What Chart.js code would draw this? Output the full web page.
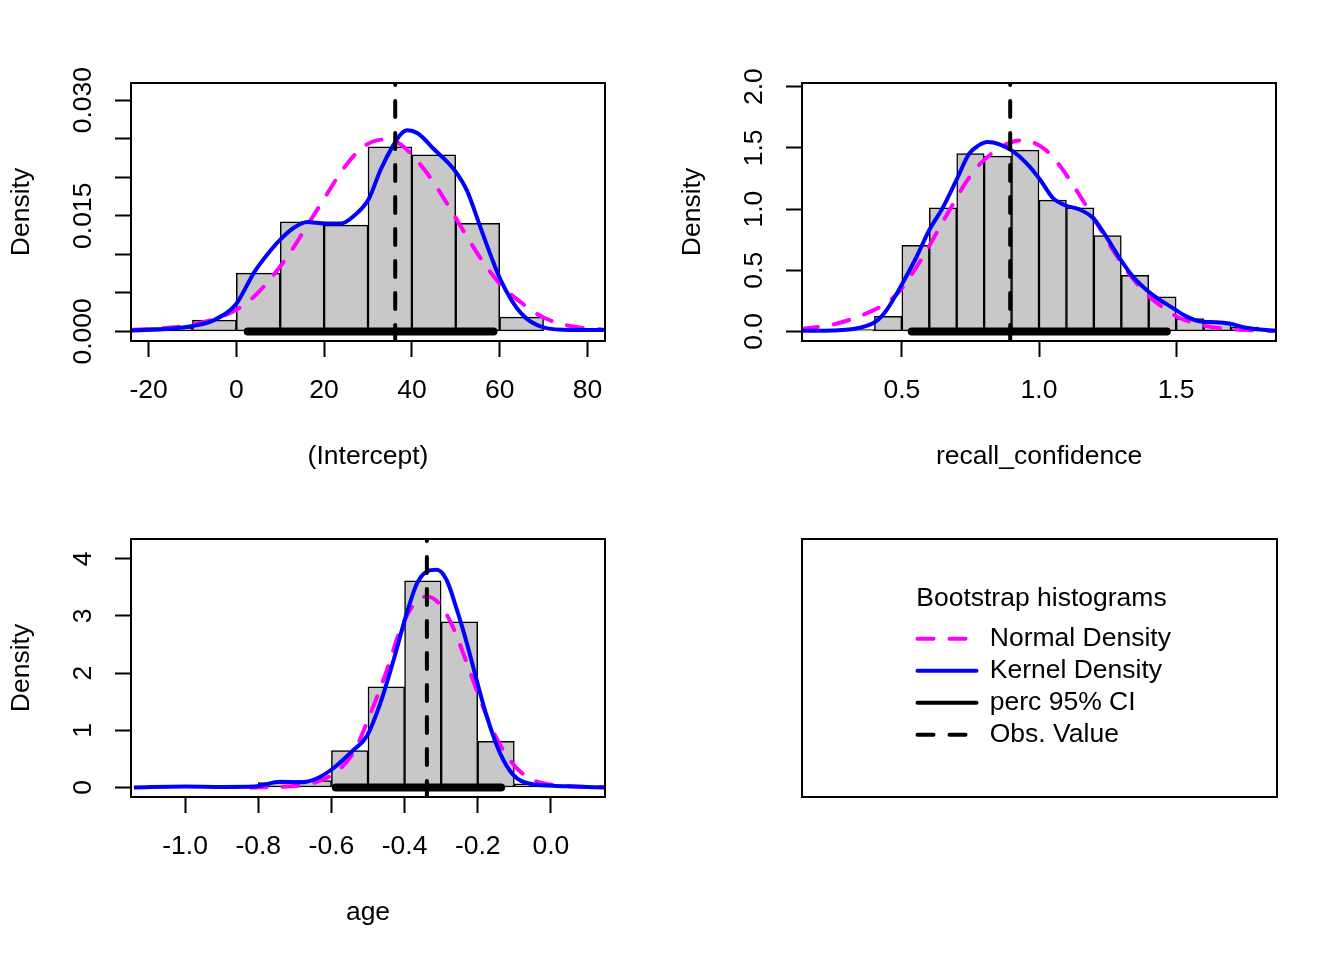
<!DOCTYPE html>
<html lang="en">
<head>
    <meta charset="UTF-8">
    <title>Bootstrap histograms</title>
    <script src="https://cdn.jsdelivr.net/npm/chart.js"></script>
    <style>
        body { margin: 0; background: #fff; }
        #page { position: relative; width: 1344px; height: 960px; }
        canvas, .frame { position: absolute; }
        .frame { box-sizing: border-box; border: 2px solid #000; }
    </style>
</head>
<body>
<div id="page">
    <canvas id="p1" width="672" height="480" style="left:0;top:0"></canvas>
    <canvas id="p2" width="672" height="480" style="left:671px;top:0"></canvas>
    <canvas id="p3" width="672" height="480" style="left:0;top:456px"></canvas>
    <div class="frame" style="left:801px;top:538px;width:477px;height:260px"></div>
    <canvas id="p4" width="475" height="420" style="left:802px;top:539px"></canvas>
</div>

<script>
    // --- (Intercept) ---
    const breaks1 = [-20, -10, 0, 10, 20, 30, 40, 50, 60, 70];
    const dens1 = [0.0005, 0.00147, 0.00757, 0.01422, 0.01379, 0.02395, 0.02291, 0.01401, 0.00186];
    const normX1 = [-24, -15, -10, -5, 0, 4, 8, 12, 16, 20, 24, 28, 31, 34, 37, 40, 44, 48, 52, 56, 60, 65, 70, 76, 84];
    const normY1 = [0.0002, 0.0005, 0.0009, 0.0016, 0.0028, 0.0045, 0.007, 0.01, 0.0136, 0.0172, 0.0208, 0.0235, 0.0246,
        0.0249, 0.0244, 0.0229, 0.0201, 0.0166, 0.0128, 0.0092, 0.0062, 0.0037, 0.0018, 0.0007, 0.0002];
    const kernX1 = [-24, -15, -10, -5.1, 0, 4, 7.1, 10, 13.1, 16.2, 20, 23.8, 26.8, 30.1, 32.9, 35.6, 37.5, 39, 41.3,
        45.1, 49.6, 52.6, 55.3, 58, 60.2, 64.8, 70.1, 76.2, 84];
    const kernY1 = [0.00013, 0.00035, 0.0007, 0.00147, 0.0036, 0.0076, 0.01, 0.0119, 0.01345, 0.0142, 0.014, 0.014, 0.015,
        0.0171, 0.021, 0.024, 0.0256, 0.0261, 0.0257, 0.0236, 0.021, 0.0182, 0.014, 0.0098, 0.0067, 0.0024, 0.0005, 0.0002, 0.0002];
    const ci1 = [2.6, 58.6];
    const obs1 = 36.2;
    const xTicks1 = [-20, 0, 20, 40, 60, 80];
    const xLabels1 = ['-20', '0', '20', '40', '60', '80'];
    const yTicks1 = [0, 0.005, 0.01, 0.015, 0.02, 0.025, 0.03];
    const yLabels1 = ['0.000', '', '', '0.015', '', '', '0.030'];

    // --- recall_confidence ---
    const breaks2 = [0.3, 0.4, 0.5, 0.6, 0.7, 0.8, 0.9, 1.0, 1.1, 1.2, 1.3, 1.4, 1.5, 1.6, 1.7, 1.8];
    const dens2 = [0.016, 0.1225, 0.703, 1.01, 1.454, 1.432, 1.481, 1.073, 1.01, 0.784, 0.458, 0.283, 0.106, 0.076, 0.035];
    const normX2 = [0.136, 0.25, 0.346, 0.431, 0.492, 0.54, 0.589, 0.637, 0.686, 0.734, 0.783, 0.831, 0.88, 0.928, 0.977,
        1.026, 1.074, 1.123, 1.171, 1.22, 1.268, 1.317, 1.365, 1.414, 1.462, 1.511, 1.572, 1.644, 1.729, 1.864];
    const normY2 = [0.022, 0.057, 0.125, 0.215, 0.33, 0.479, 0.656, 0.847, 1.038, 1.22, 1.364, 1.46, 1.528, 1.56, 1.545,
        1.48, 1.36, 1.2, 1.03, 0.85, 0.67, 0.507, 0.37, 0.261, 0.18, 0.112, 0.065, 0.03, 0.014, 0.005];
    const kernX2 = [0.136, 0.25, 0.346, 0.407, 0.443, 0.5, 0.552, 0.601, 0.649, 0.7, 0.746, 0.78, 0.813, 0.856, 0.904,
        0.953, 1.001, 1.05, 1.098, 1.147, 1.196, 1.244, 1.293, 1.341, 1.39, 1.438, 1.487, 1.535, 1.584, 1.644, 1.693, 1.754, 1.864];
    const kernY2 = [0.005, 0.008, 0.03, 0.084, 0.17, 0.384, 0.602, 0.833, 1.01, 1.242, 1.454, 1.52, 1.547, 1.528, 1.473,
        1.378, 1.25, 1.092, 1.029, 0.997, 0.929, 0.779, 0.602, 0.452, 0.343, 0.261, 0.193, 0.125, 0.084, 0.076, 0.065, 0.03, 0.005];
    const ci2 = [0.536, 1.466];
    const obs2 = 0.895;
    const xTicks2 = [0.5, 1.0, 1.5];
    const xLabels2 = ['0.5', '1.0', '1.5'];
    const yTicks2 = [0, 0.5, 1, 1.5, 2];
    const yLabels2 = ['0.0', '0.5', '1.0', '1.5', '2.0'];

    // --- age ---
    const breaks3 = [-0.8, -0.7, -0.6, -0.5, -0.4, -0.3, -0.2, -0.1, 0.0];
    const dens3 = [0.087, 0.12, 0.647, 1.761, 3.615, 2.898, 0.805, 0.064];
    const normX3 = [-0.821, -0.721, -0.648, -0.585, -0.539, -0.494, -0.448, -0.412, -0.375, -0.339, -0.303, -0.266,
        -0.23, -0.194, -0.157, -0.112, -0.066, 0.006, 0.148];
    const normY3 = [0.0, 0.017, 0.08, 0.28, 0.62, 1.28, 2.06, 2.75, 3.2, 3.34, 3.2, 2.78, 2.18, 1.55, 0.97, 0.48, 0.19, 0.045, 0.005];
    const kernX3 = [-1.14, -1.0, -0.9, -0.81, -0.74, -0.685, -0.639, -0.594, -0.539, -0.503, -0.466, -0.43, -0.394, -0.366,
        -0.339, -0.312, -0.285, -0.257, -0.23, -0.203, -0.175, -0.139, -0.103, -0.057, 0.006, 0.061, 0.148];
    const kernY3 = [0.0, 0.017, 0.01, 0.017, 0.1, 0.09, 0.16, 0.34, 0.66, 0.9, 1.48, 2.23, 3.05, 3.57, 3.78, 3.81, 3.63,
        3.11, 2.53, 1.88, 1.24, 0.6, 0.22, 0.064, 0.03, 0.017, 0.0];
    const ci3 = [-0.588, -0.136];
    const obs3 = -0.339;
    const xTicks3 = [-1.0, -0.8, -0.6, -0.4, -0.2, 0.0];
    const xLabels3 = ['-1.0', '-0.8', '-0.6', '-0.4', '-0.2', '0.0'];
    const yTicks3 = [0, 1, 2, 3, 4];
    const yLabels3 = ['0', '1', '2', '3', '4'];

    // legend
    const legendLabels = ['Normal Density', 'Kernel Density', 'perc 95% CI', 'Obs. Value'];
    const legendColors = ['#FF00FF', '#0000FF', '#000000', '#000000'];
    const legendDash = [[16, 16], [], [], [16, 16]];

    const FAMILY = '"Liberation Sans", Arial, Helvetica, sans-serif';
    const FONT = { family: FAMILY, size: 26.5 };
    Chart.defaults.font.family = FAMILY;
    Chart.defaults.color = '#000';

    const measure = document.createElement('canvas').getContext('2d');
    measure.font = '26.5px ' + FAMILY;
    const widest = labels => Math.max(...labels.map(l => measure.measureText(l).width));

    // R style frame round the plot region
    const boxPlugin = {
        id: 'box',
        afterDraw(chart) {
            const a = chart.chartArea, ctx = chart.ctx;
            ctx.save();
            ctx.strokeStyle = '#000';
            ctx.lineWidth = 2;
            ctx.strokeRect(a.left, a.top, a.right - a.left, a.bottom - a.top);
            ctx.restore();
        }
    };

    const pts = (xs, ys) => xs.map((x, i) => ({ x: x, y: ys[i] }));

    const axisGrid = { drawOnChartArea: false, tickLength: 16, tickWidth: 2, tickColor: '#000', offset: false };
    const axisBorder = { color: '#000', width: 2 };

    function makePanel(id, p) {
        const bars = p.dens.map((d, i) => ({ x: (p.breaks[i] + p.breaks[i + 1]) / 2, y: d }));
        new Chart(document.getElementById(id), {
            type: 'bar',
            data: {
                datasets: [
                    {
                        type: 'line', label: 'Obs. Value', order: 1,
                        data: [{ x: p.obs, y: p.yRange[0] }, { x: p.obs, y: p.yRange[1] }],
                        borderColor: '#000', borderWidth: 4, borderDash: [16, 16], borderCapStyle: 'round', pointRadius: 0
                    },
                    {
                        type: 'line', label: 'perc 95% CI', order: 2,
                        data: [{ x: p.ci[0], y: 0 }, { x: p.ci[1], y: 0 }],
                        borderColor: '#000', borderWidth: 8, borderCapStyle: 'round', pointRadius: 0
                    },
                    {
                        type: 'line', label: 'Kernel Density', order: 3,
                        data: pts(p.kernX, p.kernY),
                        borderColor: '#0000FF', borderWidth: 4, cubicInterpolationMode: 'monotone', pointRadius: 0
                    },
                    {
                        type: 'line', label: 'Normal Density', order: 4,
                        data: pts(p.normX, p.normY),
                        borderColor: '#FF00FF', borderWidth: 4, borderDash: [16, 16], borderCapStyle: 'round',
                        cubicInterpolationMode: 'monotone', pointRadius: 0
                    },
                    {
                        type: 'bar', label: 'hist', order: 5, data: bars,
                        backgroundColor: '#C8C8C8', borderColor: '#000', borderWidth: 1.5, borderSkipped: false,
                        barPercentage: 1, categoryPercentage: 1
                    }
                ]
            },
            options: {
                responsive: false,
                animation: false,
                layout: { padding: { left: 0, top: 83, right: 67, bottom: 7 } },
                plugins: { legend: { display: false }, tooltip: { enabled: false } },
                scales: {
                    x: {
                        type: 'linear', min: p.xRange[0], max: p.xRange[1], offset: false,
                        afterBuildTicks: s => { s.ticks = p.xTicks.map(v => ({ value: v })); },
                        afterFit: s => { s.height = 132; },
                        grid: axisGrid, border: axisBorder,
                        ticks: {
                            autoSkip: false, minRotation: 0, maxRotation: 0, padding: 18, color: '#000', font: FONT,
                            callback: (v, i) => p.xLabels[i]
                        },
                        title: { display: true, text: p.name, color: '#000', font: FONT, padding: 0 }
                    },
                    y: {
                        type: 'linear', min: p.yRange[0], max: p.yRange[1],
                        afterBuildTicks: s => { s.ticks = p.yTicks.map(v => ({ value: v })); },
                        afterFit: s => { s.width = 131; },
                        grid: axisGrid, border: axisBorder,
                        ticks: {
                            autoSkip: false, minRotation: 90, maxRotation: 90, crossAlign: 'center',
                            padding: 31 - widest(p.yLabels) / 2, color: '#000', font: FONT,
                            callback: (v, i) => p.yLabels[i]
                        },
                        title: { display: true, text: 'Density', color: '#000', font: FONT, padding: { top: 6, bottom: 0 } }
                    }
                }
            },
            plugins: [boxPlugin]
        });
    }

    makePanel('p1', {
        name: '(Intercept)', breaks: breaks1, dens: dens1, normX: normX1, normY: normY1, kernX: kernX1, kernY: kernY1,
        ci: ci1, obs: obs1, xTicks: xTicks1, xLabels: xLabels1, yTicks: yTicks1, yLabels: yLabels1,
        xRange: [-24, 84], yRange: [-0.00124, 0.03222]
    });
    makePanel('p2', {
        name: 'recall_confidence', breaks: breaks2, dens: dens2, normX: normX2, normY: normY2, kernX: kernX2, kernY: kernY2,
        ci: ci2, obs: obs2, xTicks: xTicks2, xLabels: xLabels2, yTicks: yTicks2, yLabels: yLabels2,
        xRange: [0.136, 1.864], yRange: [-0.0781, 2.03]
    });
    makePanel('p3', {
        name: 'age', breaks: breaks3, dens: dens3, normX: normX3, normY: normY3, kernX: kernX3, kernY: kernY3,
        ci: ci3, obs: obs3, xTicks: xTicks3, xLabels: xLabels3, yTicks: yTicks3, yLabels: yLabels3,
        xRange: [-1.148, 0.148], yRange: [-0.167, 4.347]
    });

    // legend panel
    new Chart(document.getElementById('p4'), {
        type: 'line',
        data: {
            datasets: legendLabels.map((t, i) => ({
                label: t, data: [], borderColor: legendColors[i], borderWidth: 4, borderDash: legendDash[i]
            }))
        },
        options: {
            responsive: false,
            animation: false,
            layout: { padding: { left: 110, top: 42.9, right: 0, bottom: 0 } },
            scales: { x: { display: false }, y: { display: false } },
            plugins: {
                tooltip: { enabled: false },
                legend: {
                    position: 'top',
                    align: 'start',
                    title: {
                        display: true, text: 'Bootstrap histograms', color: '#000', font: FONT,
                        padding: { top: 4, bottom: 2.35 }
                    },
                    labels: {
                        color: '#000', font: FONT, usePointStyle: true, pointStyleWidth: 59, padding: 5.5,
                        generateLabels: () => legendLabels.map((t, i) => ({
                            text: t, strokeStyle: legendColors[i], fillStyle: 'rgba(0,0,0,0)', fontColor: '#000',
                            lineWidth: 4, lineDash: legendDash[i], lineDashOffset: 0, lineCap: 'round',
                            pointStyle: 'line', hidden: false, datasetIndex: i
                        }))
                    }
                }
            }
        }
    });
</script>
</body>
</html>
